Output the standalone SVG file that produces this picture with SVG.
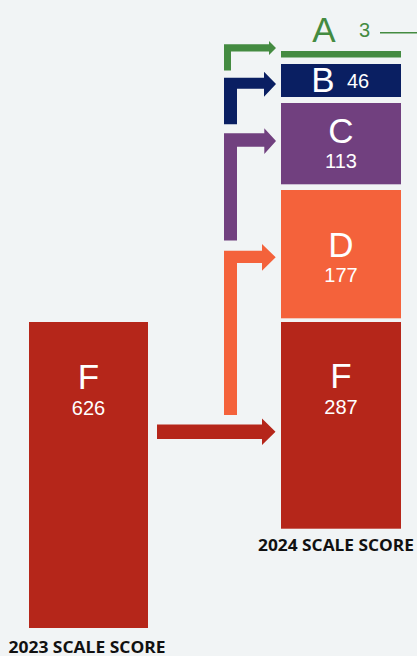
<svg xmlns="http://www.w3.org/2000/svg" width="417" height="656" viewBox="0 0 417 656">
<style>
.big{font-family:"Liberation Sans",Arial,sans-serif;font-size:35px;fill:#fff;text-anchor:middle}
.num{font-family:"Liberation Sans",Arial,sans-serif;font-size:20px;fill:#fff;text-anchor:middle}
.lbl{font-family:"Open Sans","Liberation Sans",sans-serif;font-size:16.5px;font-weight:bold;fill:#111}
</style>
<rect width="417" height="656" fill="#f1f4f5"/>
<g id="connectors">
<polygon fill="#b5261a" points="157,424.5 262,424.5 262,418.5 275.5,431.7 262,445 262,439 157,439"/>
<polygon fill="#f4623b" points="224,415 224,250.7 262,250.7 262,244 275.7,257.3 262,270.7 262,263 237,263 237,415"/>
<polygon fill="#71407f" points="224,240.5 224,133.3 264.3,133.3 264.3,128.3 276,141 264.3,154 264.3,146.7 237,146.7 237,240.5"/>
<polygon fill="#0a1f62" points="224,124.3 224,77.7 264,77.7 264,71.7 276,84 264,96.7 264,88.7 237,88.7 237,124.3"/>
<polygon fill="#448b41" points="224,70.5 224,44.3 269,44.3 269,41 276,48 269,55 269,51.5 231,51.5 231,70.5"/>
</g>
<g id="node-F2023">
<rect x="29" y="322" width="119" height="306" fill="#b5261a"/>
<text class="big" x="88.5" y="388.7">F</text>
<text class="num" x="88.5" y="414.7">626</text>
</g>
<g id="node-A">
<rect x="281" y="51" width="120" height="6.5" fill="#448b41"/>
<text class="big" x="324" y="41.7" style="fill:#448b41">A</text>
<text class="num" x="364.5" y="37.3" style="fill:#448b41">3</text>
<line x1="380" y1="32.8" x2="417" y2="32.8" stroke="#448b41" stroke-width="1.6"/>
</g>
<g id="node-B">
<rect x="281" y="64" width="120" height="33" fill="#0a1f62"/>
<text class="big" x="323" y="91.7">B</text>
<text class="num" x="358" y="87.7">46</text>
</g>
<g id="node-C">
<rect x="281" y="103" width="120" height="81.3" fill="#71407f"/>
<text class="big" x="341" y="142.7">C</text>
<text class="num" x="341" y="168">113</text>
</g>
<g id="node-D">
<rect x="281" y="190" width="120" height="128.3" fill="#f4623b"/>
<text class="big" x="341" y="256.7">D</text>
<text class="num" x="341" y="282.3">177</text>
</g>
<g id="node-F2024">
<rect x="281" y="322" width="120" height="206.7" fill="#b5261a"/>
<text class="big" x="341" y="388.3">F</text>
<text class="num" x="341" y="414.3">287</text>
</g>
<g id="labels">
<text class="lbl" x="8.5" y="652.5" textLength="157" lengthAdjust="spacingAndGlyphs">2023 SCALE SCORE</text>
<text class="lbl" x="258" y="550.7" textLength="156" lengthAdjust="spacingAndGlyphs">2024 SCALE SCORE</text>
</g>
</svg>
